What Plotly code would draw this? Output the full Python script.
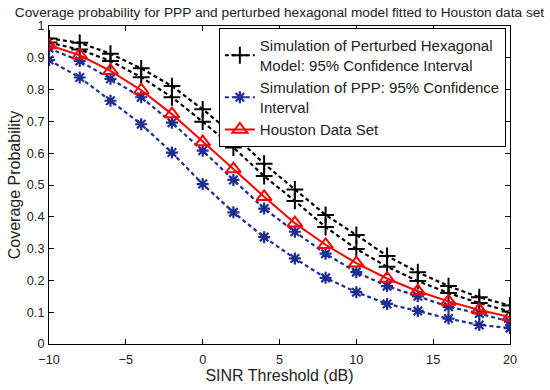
import plotly.graph_objects as go

sinr_db = [-10, -8, -6, -4, -2, 0, 2, 4, 6, 8, 10, 12, 14, 16, 18, 20]
hex_upper = [0.961, 0.947, 0.913, 0.867, 0.811, 0.738, 0.659, 0.567, 0.486, 0.406, 0.343, 0.277, 0.226, 0.182, 0.147, 0.121]
hex_lower = [0.948, 0.926, 0.890, 0.839, 0.776, 0.699, 0.618, 0.528, 0.450, 0.368, 0.299, 0.243, 0.198, 0.160, 0.129, 0.102]
ppp_upper = [0.930, 0.890, 0.834, 0.776, 0.696, 0.608, 0.516, 0.426, 0.353, 0.284, 0.226, 0.182, 0.150, 0.117, 0.096, 0.070]
ppp_lower = [0.893, 0.838, 0.765, 0.691, 0.602, 0.503, 0.414, 0.336, 0.269, 0.208, 0.163, 0.126, 0.104, 0.080, 0.060, 0.050]
houston = [0.940, 0.908, 0.859, 0.798, 0.723, 0.635, 0.550, 0.463, 0.380, 0.312, 0.254, 0.206, 0.166, 0.134, 0.107, 0.085]

x_ticks = [-10, -5, 0, 5, 10, 15, 20]
y_ticks = [0, 0.1, 0.2, 0.3, 0.4, 0.5, 0.6, 0.7, 0.8, 0.9, 1]
y_ticktext = ["0", "0.1", "0.2", "0.3", "0.4", "0.5", "0.6", "0.7", "0.8", "0.9", "1"]

BLUE = "#1c2e94"
FONT = "Liberation Sans, Arial, sans-serif"
TXT = "#222"

fig = go.Figure()

hex_line = dict(color="black", width=2.2, dash="4px,3px")
hex_marker = dict(symbol="cross-thin", size=12, color="black", line=dict(color="black", width=2))
fig.add_trace(go.Scatter(x=sinr_db, y=hex_upper, mode="lines+markers", line=hex_line, marker=hex_marker,
                         name="Simulation of Perturbed Hexagonal<br>Model: 95% Confidence Interval",
                         legendgroup="hex"))
fig.add_trace(go.Scatter(x=sinr_db, y=hex_lower, mode="lines+markers", line=hex_line, marker=hex_marker,
                         showlegend=False, legendgroup="hex"))

ppp_line = dict(color=BLUE, width=2.2, dash="4px,3px")
ppp_marker = dict(symbol="asterisk-open", size=10, color=BLUE, line=dict(color=BLUE, width=2.2))
fig.add_trace(go.Scatter(x=sinr_db, y=ppp_upper, mode="lines+markers", line=ppp_line, marker=ppp_marker,
                         name="Simulation of PPP: 95% Confidence<br>Interval", legendgroup="ppp"))
fig.add_trace(go.Scatter(x=sinr_db, y=ppp_lower, mode="lines+markers", line=ppp_line, marker=ppp_marker,
                         showlegend=False, legendgroup="ppp"))

fig.add_trace(go.Scatter(x=sinr_db, y=houston, mode="lines+markers",
                         line=dict(color="red", width=2),
                         marker=dict(symbol="triangle-up-open", size=13, color="red", line=dict(color="red", width=2)),
                         name="Houston Data Set"))

axis_common = dict(showline=True, linecolor="black", linewidth=1, mirror="ticks", ticks="inside",
                   ticklen=5, tickcolor="black", showgrid=False, zeroline=False,
                   tickfont=dict(family=FONT, size=12.7, color=TXT))

fig.update_layout(
    width=550, height=390,
    margin=dict(l=49, r=40, t=26, b=36),
    paper_bgcolor="white", plot_bgcolor="white",
    font=dict(family=FONT, color=TXT),
    title=dict(text="Coverage probability for PPP and perturbed hexagonal model fitted to Houston data set",
               x=0.5, xref="paper", xanchor="center", y=1 - 12 / 390, yref="container", yanchor="middle",
               font=dict(family=FONT, size=13.7, color=TXT)),
    xaxis=dict(range=[-10, 20], tickvals=x_ticks, ticklabelstandoff=4,
               title=dict(text="SINR Threshold (dB)", font=dict(family=FONT, size=16, color=TXT), standoff=0),
               **axis_common),
    yaxis=dict(range=[0, 1], tickvals=y_ticks, ticktext=y_ticktext, ticklabelstandoff=1,
               title=dict(text="Coverage Probability", font=dict(family=FONT, size=16, color=TXT), standoff=2),
               **axis_common),
    legend=dict(x=0.991, y=0.993, xanchor="right", yanchor="top", bgcolor="white",
                bordercolor="black", borderwidth=1, font=dict(family=FONT, size=15, color=TXT),
                itemwidth=30, tracegroupgap=0),
    showlegend=True,
)

fig.write_html("out.html")
